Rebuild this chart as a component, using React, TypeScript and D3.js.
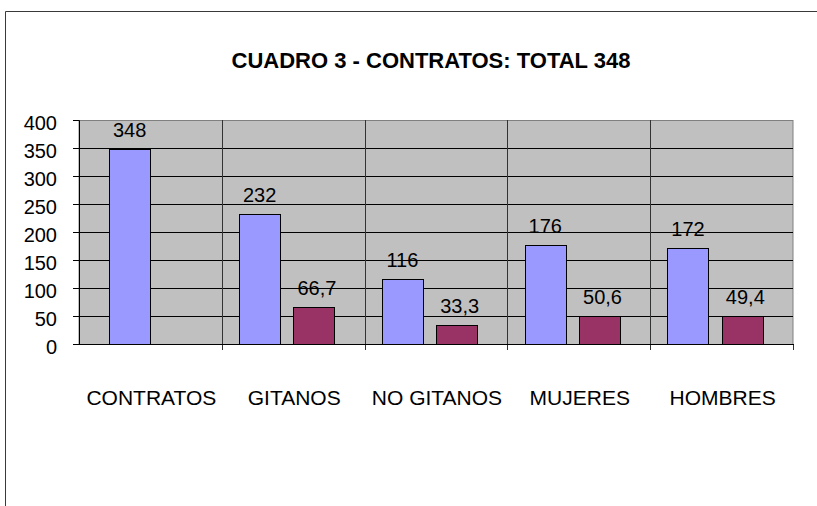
import React, { useRef, useEffect } from "react";
import { select, scaleBand, scaleLinear, axisLeft, formatLocale } from "d3";

const categories = ["CONTRATOS", "GITANOS", "NO GITANOS", "MUJERES", "HOMBRES"];
const totals = [348, 232, 116, 176, 172];
const shares: (number | null)[] = [null, 66.7, 33.3, 50.6, 49.4];
const yTicks = [0, 50, 100, 150, 200, 250, 300, 350, 400];
const title = "CUADRO 3 - CONTRATOS: TOTAL 348";

const FONT = "'Liberation Sans', Arial, sans-serif";
// spanish decimal comma for the percent labels
const esFormat = formatLocale({ decimal: ",", thousands: ".", grouping: [3], currency: ["", " €"] }).format(".1f");

function App() {
  const svgRef = useRef<SVGSVGElement>(null);

  useEffect(() => {
    const svg = select(svgRef.current);
    svg.selectAll("*").remove();

    const left = 79, right = 793, top = 120, bottom = 344;
    const x = scaleBand<string>().domain(categories).range([left, right]).padding(0);
    const y = scaleLinear().domain([0, 400]).range([bottom, top]);
    const bw = x.bandwidth();
    const barW = bw * 0.29;
    const gap = bw * 0.09;
    const center = (c: string) => (x(c) as number) + bw / 2;

    // outer frame, only left and top edges are on the page
    svg.append("path")
      .attr("d", "M5.5,506V11.5H817")
      .attr("fill", "none").attr("stroke", "#3a3a3a");

    svg.append("text")
      .attr("x", 431).attr("y", 67.5)
      .attr("text-anchor", "middle")
      .style("font", `bold 22px ${FONT}`)
      .text(title);

    // plot area
    svg.append("rect")
      .attr("x", left).attr("y", top + 0.5)
      .attr("width", right - left).attr("height", bottom - top)
      .attr("fill", "#c0c0c0").attr("stroke", "#808080");

    svg.selectAll(".hgrid")
      .data(yTicks.filter(d => d > 0 && d < 400))
      .join("line")
      .attr("class", "hgrid")
      .attr("x1", left).attr("x2", right)
      .attr("y1", d => y(d) + 0.5).attr("y2", d => y(d) + 0.5)
      .attr("stroke", "#000");

    svg.selectAll(".vgrid")
      .data(categories.slice(1))
      .join("line")
      .attr("class", "vgrid")
      .attr("x1", d => Math.round(x(d) as number) + 0.5)
      .attr("x2", d => Math.round(x(d) as number) + 0.5)
      .attr("y1", top).attr("y2", bottom + 6)
      .attr("stroke", "#333");

    // x ticks at category borders
    svg.append("line")
      .attr("x1", right + 0.5).attr("x2", right + 0.5)
      .attr("y1", bottom).attr("y2", bottom + 6)
      .attr("stroke", "#333");
    svg.append("line")
      .attr("x1", left).attr("x2", right + 1)
      .attr("y1", bottom + 0.5).attr("y2", bottom + 0.5)
      .attr("stroke", "#000");

    // bars
    svg.selectAll(".total")
      .data(totals)
      .join("rect")
      .attr("class", "total")
      .attr("x", (d, i) => Math.round(center(categories[i]) - barW - (shares[i] == null ? 0 : gap)) + 0.5)
      .attr("y", d => Math.round(y(d)) + 0.5)
      .attr("width", Math.round(barW))
      .attr("height", d => bottom - Math.round(y(d)))
      .attr("fill", "#9999ff").attr("stroke", "#000");

    const shareData = shares.map((v, i) => ({ v, c: categories[i] })).filter(d => d.v != null) as { v: number; c: string }[];
    svg.selectAll(".share")
      .data(shareData)
      .join("rect")
      .attr("class", "share")
      .attr("x", d => Math.round(center(d.c)) + 0.5)
      .attr("y", d => Math.round(y(d.v)) + 0.5)
      .attr("width", Math.round(barW))
      .attr("height", d => bottom - Math.round(y(d.v)))
      .attr("fill", "#993366").attr("stroke", "#000");

    // value labels
    svg.selectAll(".tlabel")
      .data(totals)
      .join("text")
      .attr("class", "tlabel")
      .attr("x", (d, i) => center(categories[i]) - barW / 2 - (shares[i] == null ? 0 : gap))
      .attr("y", d => y(d) - 12)
      .attr("text-anchor", "middle")
      .style("font", `20px ${FONT}`)
      .text(d => d);

    svg.selectAll(".slabel")
      .data(shareData)
      .join("text")
      .attr("class", "slabel")
      .attr("x", d => center(d.c) + barW / 2 + 3)
      .attr("y", d => y(d.v) - 12)
      .attr("text-anchor", "middle")
      .style("font", `20px ${FONT}`)
      .text(d => esFormat(d.v));

    // y axis
    const yAxis = axisLeft(y).tickValues(yTicks).tickSize(6).tickPadding(16).tickFormat(d => String(d));
    const gy = svg.append("g").attr("transform", `translate(${left},0)`).call(yAxis);
    gy.select(".domain").attr("stroke", "#000");
    gy.selectAll(".tick line").attr("stroke", "#000");
    gy.selectAll(".tick text")
      .attr("fill", "#000")
      .attr("dy", "0.45em")
      .style("font", `20px ${FONT}`);

    // category names
    svg.selectAll(".cat")
      .data(categories)
      .join("text")
      .attr("class", "cat")
      .attr("x", d => center(d) + 1)
      .attr("y", 405)
      .attr("text-anchor", "middle")
      .style("font", `21px ${FONT}`)
      .text(d => d);
  }, []);

  return (
    <svg ref={svgRef} width={817} height={506} style={{ position: "absolute", left: 0, top: 0 }} />
  );
}

export default App;
